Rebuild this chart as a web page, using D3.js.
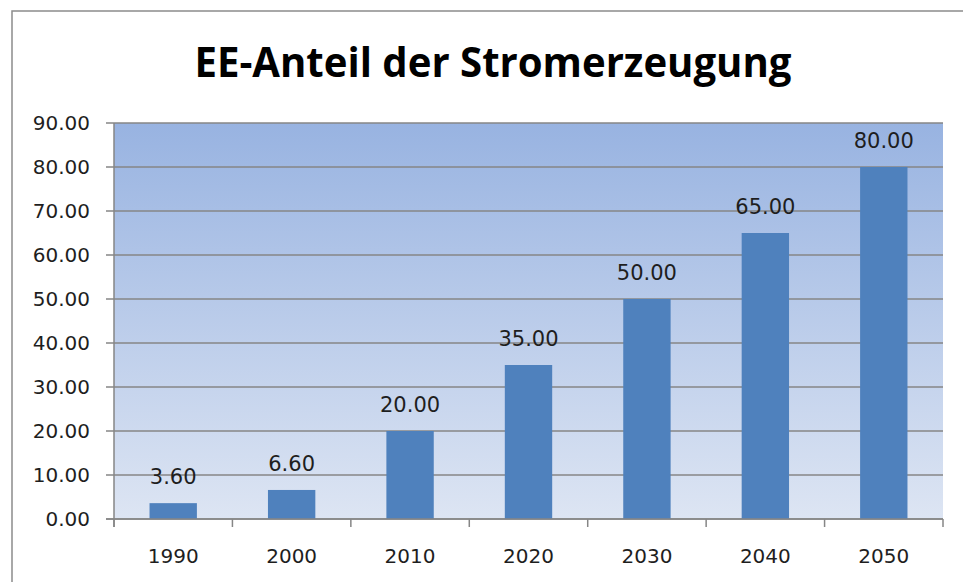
<!DOCTYPE html>
<html>
<head>
<meta charset="utf-8">
<script src="https://cdn.jsdelivr.net/npm/d3@7"></script>
<style>
  html, body { margin: 0; padding: 0; background: #fff; }
  svg { display: block; }
</style>
</head>
<body>
<svg id="chart"></svg>
<script>
// chart data
const years = ['1990', '2000', '2010', '2020', '2030', '2040', '2050'];
const shares = [3.6, 6.6, 20, 35, 50, 65, 80];
const yTicks = [0, 10, 20, 30, 40, 50, 60, 70, 80, 90];
const titleText = 'EE-Anteil der Stromerzeugung';

(function () {
  const width = 963, height = 582;
  const svg = d3.select('#chart').attr('width', width).attr('height', height);

  const plot = { left: 114, top: 123, right: 943, bottom: 519 };

  const x = d3.scaleBand().domain(years).range([plot.left, plot.right]).paddingInner(0.6).paddingOuter(0.3);
  const y = d3.scaleLinear().domain([0, 90]).range([plot.bottom, plot.top]);

  // gradient for plot background
  const defs = svg.append('defs');
  const grad = defs.append('linearGradient')
    .attr('id', 'bg').attr('x1', 0).attr('y1', 0).attr('x2', 0).attr('y2', 1);
  grad.append('stop').attr('offset', '0%').attr('stop-color', '#98b3e1');
  grad.append('stop').attr('offset', '100%').attr('stop-color', '#dde5f3');

  // outer chart frame (right/bottom edges run off the picture)
  svg.append('rect')
    .attr('x', 12).attr('y', 11)
    .attr('width', 1000).attr('height', 700)
    .attr('fill', '#fff')
    .attr('stroke', '#8c8c8c')
    .attr('stroke-width', 1.5);

  svg.append('text')
    .attr('x', 493).attr('y', 77)
    .attr('text-anchor', 'middle')
    .attr('font-family', '"Open Sans", sans-serif')
    .attr('font-weight', 'bold')
    .attr('font-size', 42)
    .attr('textLength', 597)
    .attr('lengthAdjust', 'spacingAndGlyphs')
    .attr('fill', '#000')
    .text(titleText);

  svg.append('rect')
    .attr('x', plot.left).attr('y', plot.top)
    .attr('width', plot.right - plot.left).attr('height', plot.bottom - plot.top)
    .attr('fill', 'url(#bg)');

  // gridlines
  svg.append('g')
    .selectAll('line')
    .data(yTicks)
    .enter()
    .append('line')
    .attr('x1', plot.left - 8).attr('x2', plot.right)
    .attr('y1', d => y(d)).attr('y2', d => y(d))
    .attr('stroke', '#868686')
    .attr('stroke-width', 1.5);

  // y axis labels
  svg.append('g')
    .selectAll('text')
    .data(yTicks)
    .enter()
    .append('text')
    .attr('x', 90)
    .attr('y', d => y(d))
    .attr('dy', '0.36em')
    .attr('text-anchor', 'end')
    .attr('font-family', '"DejaVu Sans", sans-serif')
    .attr('font-size', 20)
    .attr('fill', '#1e1e1e')
    .text(d => d3.format('.2f')(d));

  // bars
  svg.append('g')
    .selectAll('rect')
    .data(years)
    .enter()
    .append('rect')
    .attr('x', d => x(d))
    .attr('y', (d, i) => y(shares[i]))
    .attr('width', x.bandwidth())
    .attr('height', (d, i) => y(0) - y(shares[i]))
    .attr('fill', '#4f81bd');

  // data labels
  svg.append('g')
    .selectAll('text')
    .data(years)
    .enter()
    .append('text')
    .attr('x', d => x(d) + x.bandwidth() / 2)
    .attr('y', (d, i) => y(shares[i]) - 19)
    .attr('text-anchor', 'middle')
    .attr('font-family', '"DejaVu Sans", sans-serif')
    .attr('font-size', 21)
    .attr('fill', '#1e1e1e')
    .text((d, i) => d3.format('.2f')(shares[i]));

  // axis lines
  svg.append('line')
    .attr('x1', plot.left).attr('x2', plot.left)
    .attr('y1', plot.top).attr('y2', plot.bottom + 8)
    .attr('stroke', '#868686').attr('stroke-width', 1.5);
  svg.append('line')
    .attr('x1', plot.left - 8).attr('x2', plot.right)
    .attr('y1', plot.bottom).attr('y2', plot.bottom)
    .attr('stroke', '#868686').attr('stroke-width', 1.5);

  // category boundary ticks
  const step = x.step();
  const bounds = d3.range(years.length + 1).map(i => plot.left + i * (plot.right - plot.left) / years.length);
  svg.append('g')
    .selectAll('line')
    .data(bounds)
    .enter()
    .append('line')
    .attr('x1', d => d).attr('x2', d => d)
    .attr('y1', plot.bottom).attr('y2', plot.bottom + 8)
    .attr('stroke', '#868686').attr('stroke-width', 1.5);

  // x labels
  svg.append('g')
    .selectAll('text')
    .data(years)
    .enter()
    .append('text')
    .attr('x', d => x(d) + x.bandwidth() / 2)
    .attr('y', 563)
    .attr('text-anchor', 'middle')
    .attr('font-family', '"DejaVu Sans", sans-serif')
    .attr('font-size', 20)
    .attr('fill', '#1e1e1e')
    .text(d => d);
})();
</script>
</body>
</html>
